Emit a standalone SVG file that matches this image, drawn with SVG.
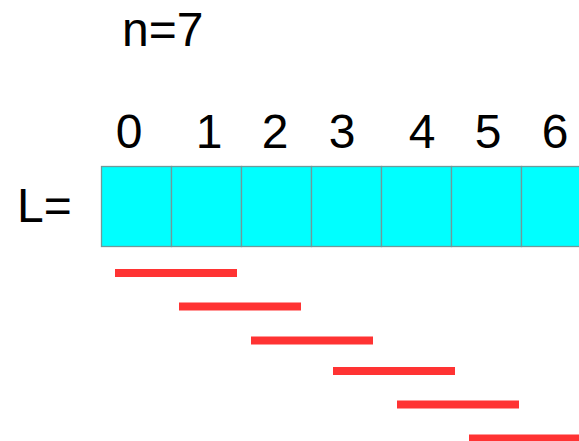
<svg xmlns="http://www.w3.org/2000/svg" width="579" height="441" viewBox="0 0 579 441">
<style>
text{font-family:"Liberation Sans",Arial,sans-serif;font-size:48px;fill:#000}
.idx{text-anchor:middle}
.cell{fill:#00ffff;stroke:#6f9a9a;stroke-width:1.3}
.bar{fill:#ff3333}
</style>
<rect width="579" height="441" fill="#fff"/>
<text x="122" y="46">n=7</text>
<g id="indices">
<text class="idx" x="129" y="148">0</text>
<text class="idx" x="209" y="148">1</text>
<text class="idx" x="275" y="148">2</text>
<text class="idx" x="342" y="148">3</text>
<text class="idx" x="422" y="148">4</text>
<text class="idx" x="488" y="148">5</text>
<text class="idx" x="555" y="148">6</text>
</g>
<text x="17" y="222">L=</text>
<g id="array">
<rect id="c0" class="cell" x="101.5" y="166.5" width="70" height="80"/>
<rect id="c1" class="cell" x="171.5" y="166.5" width="70" height="80"/>
<rect id="c2" class="cell" x="241.5" y="166.5" width="70" height="80"/>
<rect id="c3" class="cell" x="311.5" y="166.5" width="70" height="80"/>
<rect id="c4" class="cell" x="381.5" y="166.5" width="70" height="80"/>
<rect id="c5" class="cell" x="451.5" y="166.5" width="70" height="80"/>
<rect id="c6" class="cell" x="521.5" y="166.5" width="70" height="80"/>
</g>
<g id="bars">
<rect class="bar" x="115" y="269" width="122" height="8"/>
<rect class="bar" x="179" y="302.5" width="122" height="8"/>
<rect class="bar" x="251" y="336.5" width="122" height="8"/>
<rect class="bar" x="333" y="367" width="122" height="8"/>
<rect class="bar" x="397" y="400.5" width="122" height="8"/>
<rect class="bar" x="469" y="434.5" width="122" height="8"/>
</g>
</svg>
